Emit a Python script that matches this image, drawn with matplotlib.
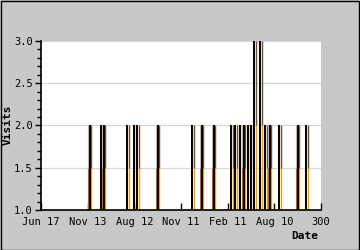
import matplotlib
matplotlib.use("Agg")
import matplotlib.pyplot as plt
from matplotlib.patches import Rectangle
from matplotlib.ticker import MultipleLocator

# Data (day index, visits)
days = [52, 64, 67, 92, 100, 103, 125, 162, 172, 185, 204, 208, 213, 217,
        222, 225, 228, 235, 240, 245, 255, 275, 284]
visits = [2, 2, 2, 2, 2, 2, 2, 2, 2, 2, 2, 2, 2, 2,
          2, 2, 3, 3, 2, 2, 2, 2, 2]
xtick_vals = [0, 50, 100, 150, 200, 250, 300]
xtick_labels = ["Jun 17", "Nov 13", "Aug 12", "Nov 11", "Feb 11", "Aug 10", "300"]
ytick_vals = [1.0, 1.5, 2.0, 2.5, 3.0]

fig = plt.figure(figsize=(3.6, 2.5), dpi=100, facecolor="#c8c8c8")
fig.patches.append(Rectangle((0.0014, 0.002), 0.997, 0.996, transform=fig.transFigure,
                             fill=False, edgecolor="black", linewidth=1.0))
ax = fig.add_axes([41/360, 1-210/250, 280/360, 169/250])
ax.set_facecolor("white")

base = 1.0
for d, v in zip(days, visits):
    mid = base + (v - base) / 2
    ax.vlines(d - 1.3, mid, v, color="#b8b8b8", linewidth=0.8, zorder=2)
    ax.vlines(d - 1.3, base, mid, color="#a07020", linewidth=0.8, zorder=2)
    ax.vlines(d + 1.9, base, mid, color="#f5a000", linewidth=1.0, zorder=2)
    ax.vlines(d + 1.9, mid, v, color="#6a5020", linewidth=1.0, zorder=2)
    ax.vlines(d, base, v, color="black", linewidth=1.4, zorder=3)

ax.set_xlim(0, 300)
ax.set_ylim(1.0, 3.0)
ax.set_xticks(xtick_vals)
ax.set_xticklabels(xtick_labels)
ax.set_yticks(ytick_vals)
ax.set_yticklabels([f"{v:.1f}" for v in ytick_vals])
ax.yaxis.set_minor_locator(MultipleLocator(0.1))
ax.grid(axis="y", color="#d8d8d8", linewidth=0.9, zorder=0)
ax.set_axisbelow(True)

for s in ["top", "right"]:
    ax.spines[s].set_visible(False)
for s in ["left", "bottom"]:
    ax.spines[s].set_color("black")
    ax.spines[s].set_linewidth(1.2)

mono = "DejaVu Sans Mono"
ax.tick_params(axis="x", direction="in", length=5, width=1, pad=5,
               labelsize=7.5, labelfontfamily=mono)
ax.tick_params(axis="y", which="major", direction="out", length=4, width=1,
               pad=2, labelsize=7.5, labelfontfamily=mono)
ax.tick_params(axis="y", which="minor", direction="out", length=3, width=1)

fig.text(8/360, 1-125/250, "Visits", rotation=90, ha="center", va="center",
         fontsize=8, fontweight="bold", family=mono)
fig.text(318/360, 1-236/250, "Date", ha="right", va="center",
         fontsize=8, fontweight="bold", family=mono)

fig.savefig("out.png", dpi=100, facecolor=fig.get_facecolor())
